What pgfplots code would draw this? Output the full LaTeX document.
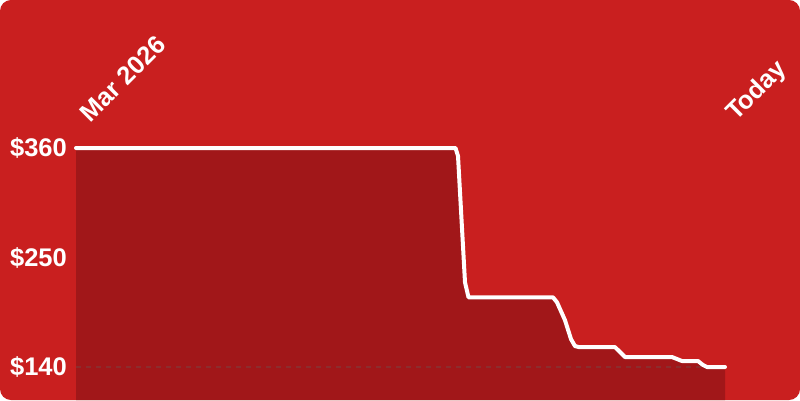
\documentclass[border=0pt]{standalone}
\usepackage{pgfplots}
\pgfplotsset{compat=1.18}
\usepackage{pgfplotstable}
\usepackage{fontspec}
\setmainfont{Liberation Sans}

\definecolor{bgred}{RGB}{201,31,31}
\definecolor{fillred}{RGB}{161,23,25}
\definecolor{dashgray}{RGB}{140,45,45}

% price history, x in picture units, y in dollars
\pgfplotstableread{
x y
76 360
455.5 360
458 352
465 225
468.5 210
553 210
557 205
565 187
571 168
575 161
579 160
615 160
620 155
625 150
672 150
677 148
682 146
698 146
703 142
707 140
725 140
}\price

\tikzset{
  lbl/.style={font=\fontsize{25.5bp}{30bp}\selectfont\bfseries, inner sep=0pt, text=white},
}

\begin{document}
\begin{tikzpicture}
\begin{axis}[
  width=800bp, height=400bp, scale only axis,
  xmin=0, xmax=800, ymin=106.85, ymax=508.7,
  axis lines=none, clip=false,
]
\fill[white] (rel axis cs:0,0) rectangle (rel axis cs:1,1);
\fill[bgred, rounded corners=11bp] (rel axis cs:0,0) rectangle (rel axis cs:1,1);

\addplot[fill=fillred, draw=none] table {\price}
  -- (axis cs:725,106.85) -- (axis cs:76,106.85) -- cycle;
\addplot[dashgray, line width=1.2bp, dash pattern=on 5bp off 5bp]
  coordinates {(76,140) (725,140)};
\addplot[white, line width=4bp, line join=round, line cap=round] table {\price};

\pgfplotsinvokeforeach{360,250,140}{
  \node[lbl, anchor=east] at (axis cs:67,#1) {\$#1};
}
\node[lbl, anchor=base west, rotate=45] at (axis cs:90,384) {Mar 2026};
\node[lbl, anchor=base west, rotate=45] at (axis cs:736,386) {Today};
\end{axis}
\end{tikzpicture}
\end{document}
